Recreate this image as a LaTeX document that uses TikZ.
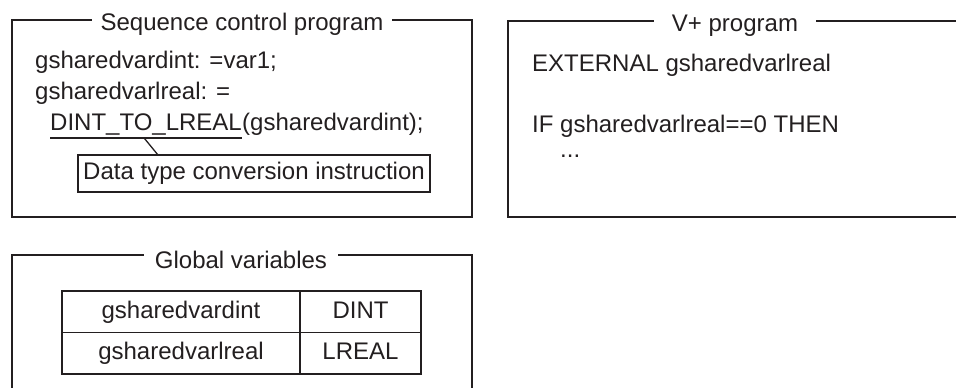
\documentclass[tikz,border=0pt]{standalone}
\usepackage{fontspec}
\setmainfont{Liberation Sans}
\usetikzlibrary{positioning,calc}
\definecolor{ink}{RGB}{35,31,32}

\begin{document}
\begin{tikzpicture}[x=1pt, y=-1pt, every node/.style={font=\fontsize{24}{28}\selectfont, text=ink},
    frame/.style={draw=ink, line width=2.2pt},
    link/.style={draw=ink, line width=1.3pt},
    title/.style={fill=white, inner xsep=9pt, inner ysep=1pt, anchor=base},
    code/.style={inner sep=0pt, anchor=base west},
    cell/.style={draw=ink, line width=1.4pt, minimum height=41.5pt, inner sep=0pt, outer sep=0pt,
      text height=17.5pt, text depth=5pt, anchor=north west}]

    \useasboundingbox (0,0) rectangle (956,388);
    \clip (0,0) rectangle (956,388);

    % Frames (right and bottom ones run past the edge)
    \draw[frame] (12,20) rectangle (472,217);
    \draw[frame] (508,21) rectangle (962,217);
    \draw[frame] (12,255) rectangle (472,400);

    % Titles
    \node[title] (seqtitle) at (242,30) {Sequence control program};
    \node[title, inner xsep=18pt] (vptitle) at (735,31) {V+ program};
    \node[title, inner xsep=11pt] (gvtitle) at (241,268) {Global variables};

    % Sequence control program
    \node[code] (ln1) at (35,68) {gsharedvardint: =var1;};
    \node[code] (ln2) at (35,99) {gsharedvarlreal: =};
    \node[code] (conv) at (50,130) {DINT\_TO\_LREAL};
    \node[code] (arg) at (conv.base east) {(gsharedvardint);};
    \coordinate (ulL) at ([yshift=-8pt]conv.base west);
    \coordinate (ulR) at ([yshift=-8pt]conv.base east);
    \draw[link] (ulL) -- (ulR);

    % Note on the conversion
    \node[draw=ink, line width=1.3pt, minimum width=352pt, minimum height=37pt, inner sep=0pt,
      outer sep=0pt, text height=17.5pt, text depth=5pt, anchor=north west] (note) at (78,155)
      {Data type conversion instruction};
    \coordinate (tip) at ([xshift=80pt]note.north west);
    \draw[link] ($(ulL)!0.49!(ulR)$) -- (tip);

    % V+ program
    \node[code] (ext) at (532,71) {EXTERNAL gsharedvarlreal};
    \node[code] (ifln) at (532,132) {IF gsharedvarlreal==0 THEN};
    \node[code] (dots) at (560,157) {...};

    % Global variables table
    \node[cell, minimum width=238pt] (v1) at (62,291) {gsharedvardint};
    \node[cell, minimum width=121pt] (t1) at (v1.north east) {DINT};
    \node[cell, minimum width=238pt] (v2) at (v1.south west) {gsharedvarlreal};
    \node[cell, minimum width=121pt] (t2) at (v2.north east) {LREAL};
\end{tikzpicture}
\end{document}
